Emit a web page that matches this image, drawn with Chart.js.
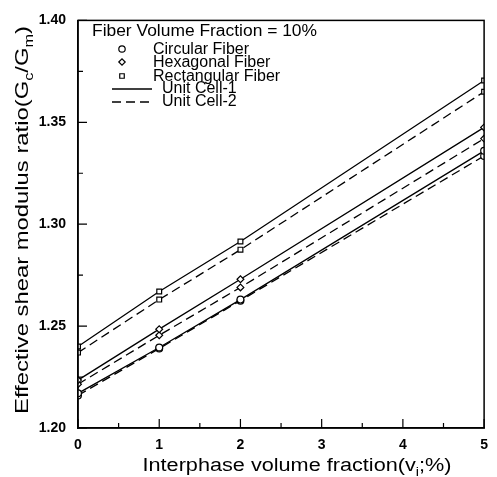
<!DOCTYPE html>
<html><head><meta charset="utf-8">
<script src="https://cdn.jsdelivr.net/npm/chart.js@4.4.0/dist/chart.umd.min.js"></script>
<style>html,body{margin:0;padding:0;background:#fff}</style>
</head><body>
<canvas id="c" width="497" height="477"></canvas>
<script>
// ---- data ----
const xValues = [0, 1, 2, 5];
const circularCell1 = [1.2170, 1.2395, 1.2630, 1.3360];
const circularCell2 = [1.2160, 1.2390, 1.2625, 1.3335];
const hexagonalCell1 = [1.2235, 1.2485, 1.2730, 1.3475];
const hexagonalCell2 = [1.2215, 1.2455, 1.2690, 1.3420];
const rectangularCell1 = [1.2400, 1.2670, 1.2915, 1.3705];
const rectangularCell2 = [1.2370, 1.2630, 1.2875, 1.3650];
const xTicks = [0, 1, 2, 3, 4, 5];
const yTicks = [1.20, 1.25, 1.30, 1.35, 1.40];
const legendTitle = "Fiber Volume Fraction = 10%";
const legendMarkers = ["Circular Fiber", "Hexagonal Fiber", "Rectangular Fiber"];
const legendLines = ["Unit Cell-1", "Unit Cell-2"];

const FONT = "'Liberation Sans', Arial, Helvetica, sans-serif";
const DASH = [9, 5];

function mk(vals){ return xValues.map((x,i)=>({x:x, y:vals[i]})); }
function ds(vals, style, dashed){
  return {
    data: mk(vals), showLine: true, borderColor: '#000', borderWidth: 1.3,
    borderDash: dashed ? DASH : [], pointStyle: style, pointRadius: 3.4,
    pointBorderWidth: 1.2, pointBackgroundColor: '#fff', pointBorderColor: '#000',
    tension: 0, fill: false
  };
}

function drawSub(ctx, parts, size, target){
  const subSize = Math.round(size*0.68);
  let w = 0;
  parts.forEach(p=>{ ctx.font = (p[1]?subSize:size)+"px "+FONT; w += ctx.measureText(p[0]).width; });
  ctx.scale(target / w, 1);
  let cx = -w/2;
  parts.forEach(p=>{
    ctx.font = (p[1]?subSize:size)+"px "+FONT;
    ctx.fillText(p[0], cx, p[1] ? size*0.25 : 0);
    cx += ctx.measureText(p[0]).width;
  });
}

const decor = {
  id: 'decor',
  afterDraw(chart){
    const {ctx, chartArea:a, scales} = chart;
    const xs = scales.x, ys = scales.y;
    ctx.save();
    ctx.strokeStyle = '#000'; ctx.fillStyle = '#000';
    ctx.lineWidth = 1.5;
    ctx.strokeRect(a.left, a.top, a.right-a.left, a.bottom-a.top);
    // inward ticks
    ctx.lineWidth = 1.2;
    ctx.beginPath();
    yTicks.forEach((v,i)=>{
      const py = ys.getPixelForValue(v);
      ctx.moveTo(a.left, py); ctx.lineTo(a.left+9, py);
      if (i < yTicks.length-1){
        const pm = ys.getPixelForValue((v+yTicks[i+1])/2);
        ctx.moveTo(a.left, pm); ctx.lineTo(a.left+5, pm);
      }
    });
    xTicks.forEach((v,i)=>{
      const px = xs.getPixelForValue(v);
      ctx.moveTo(px, a.bottom); ctx.lineTo(px, a.bottom-9);
      if (i < xTicks.length-1){
        const pm = xs.getPixelForValue((v+xTicks[i+1])/2);
        ctx.moveTo(pm, a.bottom); ctx.lineTo(pm, a.bottom-5);
      }
    });
    ctx.stroke();
    // axis titles
    ctx.textBaseline = 'alphabetic';
    ctx.textAlign = 'left';
    ctx.save();
    ctx.translate(297, 471);
    drawSub(ctx, [["Interphase volume fraction(v",false],["i",true],[";%)",false]], 18, 309);
    ctx.restore();
    ctx.save();
    ctx.translate(28, 220);
    ctx.rotate(-Math.PI/2);
    drawSub(ctx, [["Effective shear modulus ratio(G",false],["c",true],["/G",false],["m",true],[")",false]], 19, 388);
    ctx.restore();
    // legend
    ctx.textBaseline = 'middle';
    ctx.textAlign = 'left';
    ctx.save();
    ctx.font = "16px " + FONT;
    const tw = ctx.measureText(legendTitle).width;
    ctx.translate(92, 32);
    ctx.scale(225 / tw, 1);
    ctx.fillText(legendTitle, 0, 0);
    ctx.restore();
    ctx.font = "16px " + FONT;
    const styles = ['circle','rectRot','rect'];
    const rowsY = [49, 62, 76];
    legendMarkers.forEach((t,i)=>{
      ctx.fillStyle = '#fff'; ctx.strokeStyle = '#000'; ctx.lineWidth = 1.2;
      Chart.helpers.drawPoint(ctx, {pointStyle: styles[i], radius: 3.2, borderWidth: 1.2}, 122, rowsY[i]);
      ctx.fillStyle = '#000';
      ctx.fillText(t, 153, rowsY[i]+1);
    });
    const lineY = [89, 102];
    legendLines.forEach((t,i)=>{
      ctx.beginPath();
      ctx.strokeStyle = '#000';
      ctx.lineWidth = 1.3;
      ctx.setLineDash(i ? DASH : []);
      ctx.moveTo(112, lineY[i]); ctx.lineTo(152, lineY[i]);
      ctx.stroke();
      ctx.setLineDash([]);
      ctx.fillStyle = '#000';
      ctx.fillText(t, 162, lineY[i]);
    });
    ctx.restore();
  }
};

new Chart(document.getElementById('c'), {
  type: 'scatter',
  data: { datasets: [
    ds(circularCell1, 'circle', false),
    ds(circularCell2, 'circle', true),
    ds(hexagonalCell1, 'rectRot', false),
    ds(hexagonalCell2, 'rectRot', true),
    ds(rectangularCell1, 'rect', false),
    ds(rectangularCell2, 'rect', true)
  ]},
  options: {
    responsive: false, animation: false, devicePixelRatio: 1,
    layout: { padding: { top: 14, right: 3, left: 0, bottom: 0 } },
    plugins: { legend: { display: false }, tooltip: { enabled: false } },
    scales: {
      x: {
        type: 'linear', min: 0, max: 5,
        afterBuildTicks: s => { s.ticks = xTicks.map(v=>({value:v})); },
        afterFit: s => { s.height = 49; },
        grid: { display: false, drawTicks: false },
        border: { display: true, color: '#000', width: 1.5 },
        ticks: { color: '#000', font: { family: FONT, size: 14, weight: 'bold' }, padding: 9,
                 maxRotation: 0, callback: v => String(v) }
      },
      y: {
        min: 1.2, max: 1.4,
        afterBuildTicks: s => { s.ticks = yTicks.map(v=>({value:v})); },
        afterFit: s => { s.width = 78; },
        grid: { display: false, drawTicks: false },
        border: { display: true, color: '#000', width: 1.5 },
        ticks: { color: '#000', font: { family: FONT, size: 14, weight: 'bold' }, padding: 12,
                 callback: v => Number(v).toFixed(2) }
      }
    }
  },
  plugins: [decor]
});
</script>
</body></html>
